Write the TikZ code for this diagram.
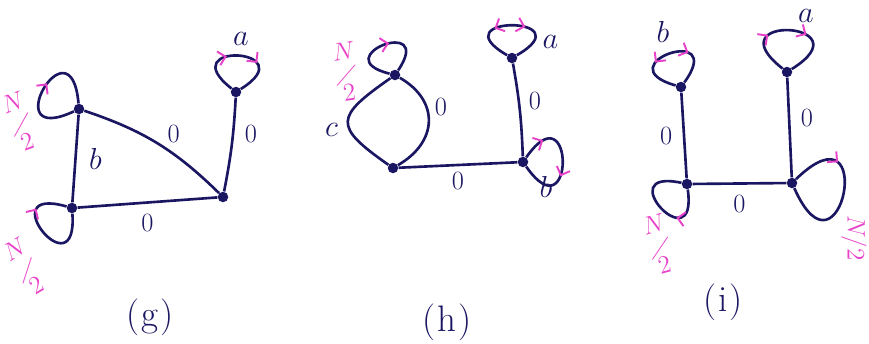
\documentclass[tikz,border=0pt]{standalone}
\usepackage{amsmath,amssymb}
\usetikzlibrary{arrows.meta,positioning,decorations.markings}
\definecolor{ink}{HTML}{1B1662}
\definecolor{pinkink}{HTML}{E842C9}
\newcommand{\halfN}{\begin{tabular}{@{}c@{}}$N$\\[-0.2em]\rotatebox[origin=c]{-30}{/}\\[-0.2em]$2$\end{tabular}}

\begin{document}
\begin{tikzpicture}[
    x=0.02cm, y=0.02cm,
    dot/.style={circle, fill=ink, inner sep=0pt, minimum size=0.21cm},
    link/.style={draw=ink, line width=1.5pt},
    selfloop/.style={link, min distance=#1, looseness=1},
    fwd/.style={postaction={decorate, decoration={markings, mark=at position #1 with {\arrow[pinkink, line width=1.1pt]{Straight Barb[length=4pt, width=8pt]}}}}},
    back/.style={postaction={decorate, decoration={markings, mark=at position #1 with {\arrowreversed[pinkink, line width=1.1pt]{Straight Barb[length=4pt, width=8pt]}}}}},
    lbl/.style={text=ink, inner sep=1pt, font=\fontsize{18}{20}\selectfont},
    wt/.style={text=ink, inner sep=1pt, font=\fontsize{15}{17}\selectfont},
    half/.style={text=pinkink, inner sep=1pt, font=\fontsize{15}{13}\selectfont},
    caption/.style={text=ink, font=\fontsize{21}{24}\selectfont}
]
    \useasboundingbox (0,0) rectangle (869,343);

    % (g)
    \node[dot] (gA) at (79,234) {};
    \node[dot] (gB) at (72,135) {};
    \node[dot] (gC) at (223,146) {};
    \node[dot] (gD) at (236,251) {};
    \draw[link] (gA) -- node[lbl, right=6pt] {$b$} (gB);
    \draw[link] (gA) to[bend left=13] node[wt, pos=0.55, above right=1pt] {0} (gC);
    \draw[link] (gB) -- node[wt, below=5pt] {0} (gC);
    \draw[link] (gC) to[bend right=4] node[wt, pos=0.62, right=5pt] {0} (gD);
    \draw[selfloop=1.75cm, fwd=0.55] (gA) to[out=205, in=95] (gA);
    \draw[selfloop=1.6cm, fwd=0.72] (gB) to[out=274, in=164] (gB);
    \draw[selfloop=1.55cm, fwd=0.4, fwd=0.69] (gD) to[out=142, in=32] (gD);
    \node[lbl, above=0.78cm of gD, xshift=0.1cm] (ga) {$a$};
    \node[half, rotate=20] (gha) at ([shift={(-58,-16)}]gA) {\halfN};
    \node[half, rotate=31] (ghb) at ([shift={(-45,-62)}]gB) {\halfN};
    \node[caption] (capg) at (150,26) {(\kern1pt g\kern1pt)};

    % (h)
    \node[dot] (hP) at (395,268) {};
    \node[dot] (hQ) at (393,175) {};
    \node[dot] (hR) at (523,181) {};
    \node[dot] (hS) at (512,285) {};
    \draw[link] (hP) to[out=215, in=145, looseness=2] node[lbl, pos=0.62, left=5pt] {$c$} (hQ);
    \draw[link] (hP) to[out=-30, in=30, looseness=1.35] node[wt, pos=0.35, right=3pt] {0} (hQ);
    \draw[link] (hQ) -- node[wt, below=2pt] {0} (hR);
    \draw[link] (hR) to[bend right=4] node[wt, pos=0.6, right=4pt] {0} (hS);
    \draw[selfloop=1.35cm, fwd=0.56] (hP) to[out=166, in=56] (hP);
    \draw[selfloop=1.6cm, back=0.34, fwd=0.62] (hS) to[out=150, in=30] (hS);
    \draw[selfloop=1.7cm, fwd=0.2, fwd=0.62] (hR) to[out=55, in=-55] (hR);
    \node[lbl, right=0.46cm of hS, yshift=0.32cm] (ha) {$a$};
    \node[lbl, below right=0.16cm and 0.21cm of hR] (hb) {$b$};
    \node[half, rotate=8] (hh) at ([shift={(-48,0)}]hP) {\halfN};
    \node[caption] (caph) at (447,21) {(\kern1pt h\kern1pt)};

    % (i)
    \node[dot] (iT) at (681,256) {};
    \node[dot] (iU) at (787,271) {};
    \node[dot] (iV) at (687,159) {};
    \node[dot] (iW) at (792,160) {};
    \draw[link] (iT) -- node[wt, left=5pt] {0} (iV);
    \draw[link] (iU) -- node[wt, pos=0.4, right=5pt] {0} (iW);
    \draw[link] (iV) -- node[wt, below=5pt] {0} (iW);
    \draw[selfloop=1.5cm, back=0.34, fwd=0.68] (iT) to[out=164, in=54] (iT);
    \draw[selfloop=1.8cm, fwd=0.33, fwd=0.64] (iU) to[out=142, in=32] (iU);
    \draw[selfloop=1.5cm, fwd=0.33] (iV) to[out=278, in=168] (iV);
    \draw[selfloop=2.3cm, fwd=0.3] (iW) to[out=44, in=-66] (iW);
    \node[lbl, above=0.73cm of iT, xshift=-0.36cm] (ib) {$b$};
    \node[lbl, above=0.84cm of iU, xshift=0.38cm] (ia) {$a$};
    \node[half, rotate=15] (iha) at ([shift={(-27,-64)}]iV) {\halfN};
    \node[half, rotate=-90] (ihb) at ([shift={(62,-55)}]iW) {$N/2$};
    \node[caption] (capi) at (723,41) {(\kern1pt i\kern1pt)};
\end{tikzpicture}
\end{document}
